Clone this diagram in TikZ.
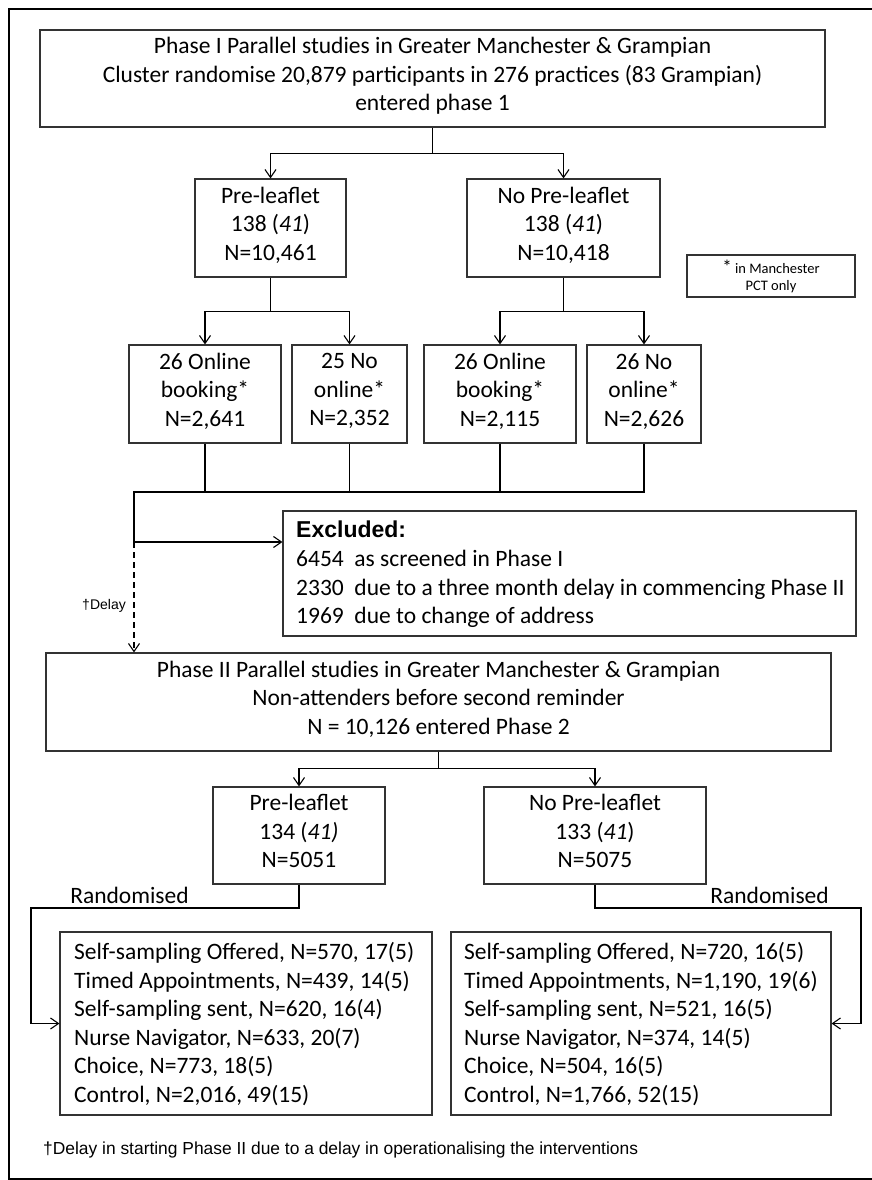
\documentclass[tikz,border=0pt]{standalone}
\usepackage{fontspec}
\setmainfont{Carlito}
\newfontfamily\arialfont{Liberation Sans}
\usetikzlibrary{arrows.meta}

\begin{document}
\begin{tikzpicture}[x=1pt, y=-1pt, >={Straight Barb[length=8pt,width=11pt]},
  every node/.style={font=\fontsize{23.5}{28.5}\selectfont},
  box/.style={draw=black!80, line width=1.1pt, inner sep=0pt, align=center,
    execute at begin node=\strut, execute at end node=\strut},
  link/.style={line width=1.1pt}]
\useasboundingbox (0,0) rectangle (872,1180);
% frame
\draw[line width=1.8pt] (878,9) -- (9,9) -- (9,1179) -- (878,1179);

% phase I
\node[box, minimum width=785, minimum height=97] (ph1) at (432.5,78.5) {Phase I Parallel studies in Greater Manchester \& Grampian\\Cluster randomise 20,879 participants in 276 practices (83 Grampian)\\entered phase 1};
\node[box, minimum width=151, minimum height=98] (pre1) at (270.5,228) {Pre-leaflet\\138 (\textit{41})\\N=10,461};
\node[box, minimum width=193, minimum height=98] (nopre1) at (563.5,228) {No Pre-leaflet\\138 (\textit{41})\\N=10,418};
\node[draw=black!80, line width=1.1pt, inner sep=0pt, align=center, minimum width=168, minimum height=42, font=\fontsize{14.5}{17}\selectfont] (note) at (771,276) {{\fontsize{19}{17}\selectfont *} in Manchester\\PCT only};

\node[box, minimum width=152, minimum height=98] (onl1) at (205,394) {26 Online\\booking*\\N=2,641};
\node[box, minimum width=115, minimum height=98] (nol1) at (349.5,394) {25 No\\online*\\N=2,352};
\node[box, minimum width=152, minimum height=98] (onl2) at (500,394) {26 Online\\booking*\\N=2,115};
\node[box, minimum width=114, minimum height=98] (nol2) at (644,394) {26 No\\online*\\N=2,626};

\draw[link] (ph1.south) -- ++(0,26) coordinate (j1);
\draw[link,->] (j1) -| (pre1.north);
\draw[link,->] (j1) -| (nopre1.north);
\draw[link] (pre1.south) -- ++(0,34) coordinate (j2);
\draw[link,->] (j2) -| (onl1.north);
\draw[link,->] (j2) -| (nol1.north);
\draw[link] (nopre1.south) -- ++(0,34) coordinate (j3);
\draw[link,->] (j3) -| (onl2.north);
\draw[link,->] (j3) -| (nol2.north);

% excluded
\node[box, minimum width=573, minimum height=125, execute at begin node={}, execute at end node={}] (excl) at (569.5,573.5) {};
\node[anchor=west, align=left, inner sep=0pt] (excltxt) at (296,574) {{\arialfont\bfseries\fontsize{23}{23}\selectfont Excluded:}\\[1pt]
6454~~as screened in Phase I\\
2330~~due to a three month delay in commencing Phase II\\
1969~~due to change of address};

\coordinate (m1) at (134,492);
\coordinate (m2) at (134,542);
\foreach \b in {onl1,nol1,onl2}
  \draw[link] (\b.south) -- (\b.south |- m1);
\draw[link] (nol2.south) |- (m1) -- (m2);
\draw[link,->] (m2) -- (m2 -| excl.west);

% phase II
\node[box, minimum width=785, minimum height=98] (ph2) at (438.5,702) {Phase II Parallel studies in Greater Manchester \& Grampian\\Non-attenders before second reminder\\N = 10,126 entered Phase 2};
\draw[link,dashed,dash pattern=on 6pt off 4pt,->] (m2) -- (m2 |- ph2.north);
\node[anchor=east, inner sep=0pt, font=\arialfont\fontsize{14}{14}\selectfont] (delay) at (126,606) {†Delay};

\node[box, minimum width=172, minimum height=97] (pre2) at (299,835.5) {Pre-leaflet\\134 (\textit{41)}\\N=5051};
\node[box, minimum width=222, minimum height=97] (nopre2) at (595,835.5) {No Pre-leaflet\\133 (\textit{41})\\N=5075};
\draw[link] (ph2.south) -- ++(0,17) coordinate (j4);
\draw[link,->] (j4) -| (pre2.north);
\draw[link,->] (j4) -| (nopre2.north);

% interventions
\node[box, minimum width=372, minimum height=183, execute at begin node={}, execute at end node={}] (arm1) at (246,1023.5) {};
\node[anchor=west, align=left, inner sep=0pt] (arm1txt) at (74,1024) {Self-sampling Offered, N=570, 17(5)\\Timed Appointments, N=439, 14(5)\\Self-sampling sent, N=620, 16(4)\\Nurse Navigator, N=633, 20(7)\\Choice, N=773, 18(5)\\Control, N=2,016, 49(15)};
\node[box, minimum width=380, minimum height=183, execute at begin node={}, execute at end node={}] (arm2) at (641,1023.5) {};
\node[anchor=west, align=left, inner sep=0pt] (arm2txt) at (464,1024) {Self-sampling Offered, N=720, 16(5)\\Timed Appointments, N=1,190, 19(6)\\Self-sampling sent, N=521, 16(5)\\Nurse Navigator, N=374, 14(5)\\Choice, N=504, 16(5)\\Control, N=1,766, 52(15)};

\coordinate (rl) at (31,908);
\coordinate (rr) at (861,908);
\draw[link,->] (pre2.south) |- (rl) |- (arm1.west);
\draw[link,->] (nopre2.south) |- (rr) |- (arm2.east);
\node (rand1) at (129.5,895) {Randomised};
\node[anchor=east, inner sep=0pt] (rand2) at (829,895) {Randomised};

\node[anchor=west, inner sep=0pt, font=\arialfont\fontsize{17.4}{17.4}\selectfont] (foot) at (43,1150) {†Delay in starting Phase II due to a delay in operationalising the interventions};
\end{tikzpicture}
\end{document}
